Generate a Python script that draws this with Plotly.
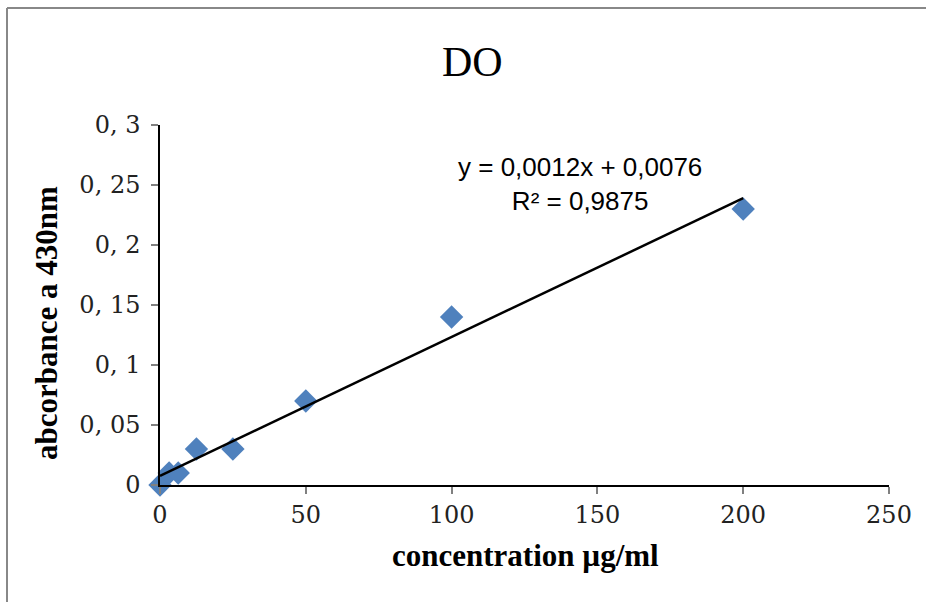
import numpy as np
import plotly.graph_objects as go

# Calibration data: concentration (µg/ml) vs absorbance at 430 nm
concentration = [0, 3.125, 6.25, 12.5, 25, 50, 100, 200]
absorbance = [0, 0.01, 0.01, 0.03, 0.03, 0.07, 0.14, 0.23]

x_ticks = [0, 50, 100, 150, 200, 250]
x_tick_text = ["0", "50", "100", "150", "200", "250"]
y_ticks = [0, 0.05, 0.1, 0.15, 0.2, 0.25, 0.3]
y_tick_text = ["0", "0, 05", "0, 1", "0, 15", "0, 2", "0, 25", "0, 3"]

# Linear least-squares trendline
slope, intercept = np.polyfit(concentration, absorbance, 1)
pred = np.polyval([slope, intercept], concentration)
ss_res = np.sum((np.array(absorbance) - pred) ** 2)
ss_tot = np.sum((np.array(absorbance) - np.mean(absorbance)) ** 2)
r2 = 1 - ss_res / ss_tot

fit_x = [min(concentration), max(concentration)]
fit_y = [slope * v + intercept for v in fit_x]

def comma(v, nd):
    return f"{v:.{nd}f}".replace(".", ",")

eq_text = f"y = {comma(slope, 4)}x + {comma(intercept, 4)}<br>R² = {comma(r2, 4)}"

fig = go.Figure()
fig.add_trace(go.Scatter(
    x=concentration, y=absorbance, mode="markers",
    marker=dict(symbol="diamond", size=18, color="#4F81BD",
                line=dict(width=0)),
    cliponaxis=False, showlegend=False,
))
fig.add_trace(go.Scatter(
    x=fit_x, y=fit_y, mode="lines",
    line=dict(color="black", width=2.5),
    cliponaxis=False, hoverinfo="skip", showlegend=False,
))

W, H = 926, 602
L, R, T, B = 160, 37, 125, 117
pw, ph = W - L - R, H - T - B

def px(xpix):
    return (xpix - L) / pw

def py(ypix):
    return (H - B - ypix) / ph

serif = "Liberation Serif, Times New Roman, serif"
tick_serif = "DejaVu Serif, serif"

fig.update_layout(
    width=W, height=H,
    margin=dict(l=L, r=R, t=T, b=B),
    paper_bgcolor="white", plot_bgcolor="white",
    xaxis=dict(
        range=[0, 250], tickvals=x_ticks, ticktext=x_tick_text,
        showgrid=False, zeroline=False,
        showline=True, linecolor="black", linewidth=1.5,
        ticks="outside", ticklen=7, tickcolor="#808080", tickwidth=1.5,
        tickfont=dict(family=tick_serif, size=24, color="#222"),
    ),
    yaxis=dict(
        range=[0, 0.3], tickvals=y_ticks, ticktext=y_tick_text,
        showgrid=False, zeroline=False,
        showline=True, linecolor="black", linewidth=1.5,
        ticks="outside", ticklen=7, tickcolor="#808080", tickwidth=1.5,
        ticklabelstandoff=6,
        tickfont=dict(family=tick_serif, size=24, color="#222"),
    ),
    annotations=[
        dict(text="DO", x=px(472), y=py(62), xref="paper", yref="paper",
             showarrow=False, font=dict(family=serif, size=42, color="black"),
             xanchor="center", yanchor="middle"),
        dict(text="<b>concentration µg/ml</b>", x=px(525), y=py(555),
             xref="paper", yref="paper", showarrow=False,
             font=dict(family=serif, size=31, color="black"),
             xanchor="center", yanchor="middle"),
        dict(text="<b>abcorbance a 430nm</b>", x=px(46), y=py(323),
             xref="paper", yref="paper", showarrow=False, textangle=-90,
             font=dict(family=serif, size=31, color="black"),
             xanchor="center", yanchor="middle"),
        dict(text=eq_text, x=px(580), y=py(184), xref="paper", yref="paper",
             showarrow=False, align="center",
             font=dict(family="Liberation Sans, Arial, sans-serif", size=26,
                       color="black"),
             xanchor="center", yanchor="middle"),
    ],
    shapes=[
        dict(type="line", xref="paper", yref="paper",
             x0=px(7), x1=px(7), y0=py(8), y1=py(602),
             line=dict(color="#888888", width=2)),
        dict(type="line", xref="paper", yref="paper",
             x0=px(7), x1=px(926), y0=py(8), y1=py(8),
             line=dict(color="#888888", width=2)),
    ],
)

fig.write_html("out.html")
